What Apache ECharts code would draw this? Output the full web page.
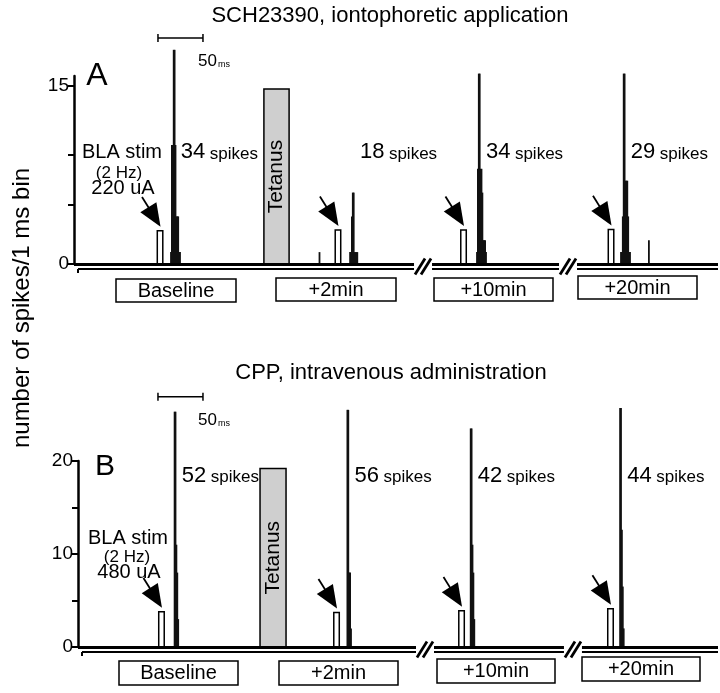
<!DOCTYPE html>
<html>
<head>
<meta charset="utf-8">
<title>PSTH</title>
<script src="https://cdn.jsdelivr.net/npm/echarts@6/dist/echarts.min.js"></script>
<style>
  html, body { margin: 0; padding: 0; background: #fff; }
  #chart { width: 720px; height: 693px; }
</style>
</head>
<body>
<div id="chart"></div>
<script>
const FONT = '"Liberation Sans", Arial, Helvetica, sans-serif';

// session names under each sweep
const sessions = ['Baseline', '+2min', '+10min', '+20min'];

// ---- panel A : SCH23390, iontophoretic ----
// x is time along the plotted line in ms, y is spikes / 1 ms bin
const stimA = [[95.6, 2.8], [293.3, 2.85], [432.8, 2.85], [596.7, 2.9]];
const respA = [
  [[107, 1], [108, 10], [109, 10], [110, 18], [111, 18], [112, 10], [113, 4], [114, 4], [115, 4], [116, 1], [117, 1]],
  [[272, 1], [306, 1], [307, 1], [308, 4], [309, 6], [310, 6], [311, 1], [312, 1], [313, 1], [314, 1]],
  [[447, 1], [448, 8], [449, 16], [450, 16], [451, 8], [452, 8], [453, 6], [454, 2], [455, 2], [456, 2], [457, 1]],
  [[607, 1], [608, 1], [609, 4], [610, 16], [611, 16], [612, 7], [613, 7], [614, 7], [615, 4], [616, 1], [617, 1], [638, 2]]
];
const spikesA = [34, 18, 34, 29];
const tetanusA = [211, 239, 14.7];
const breaksA = [387.8, 548.9];
const yTicksA = [0, 5, 9.2, 15];
const yLabelsA = [0, 15];

// ---- panel B : CPP, intravenous ----
const stimB = [[97.2, 3.8], [291.7, 3.7], [430.6, 3.9], [596.1, 4.1]];
const respB = [
  [[111, 25.3], [112, 25.3], [113, 11], [114, 8], [115, 3]],
  [[303, 25.5], [304, 25.5], [305, 8], [306, 8], [307, 2]],
  [[440, 23.5], [441, 23.5], [442, 11], [443, 8], [444, 3]],
  [[606, 25.7], [607, 25.7], [608, 12.6], [609, 6.5], [610, 2]]
];
const spikesB = [52, 56, 42, 44];
const tetanusB = [206.7, 235.6, 19.2];
const breaksB = [390, 554.4];
const yTicksB = [0, 5, 10, 15, 20];
const yLabelsB = [0, 10, 20];

const scaleBarStart = 93.3;
const scaleBarMs = 50;

// layout
const PX_PER_MS = 0.9;
const X_MAX = 644 / PX_PER_MS;

const chart = echarts.init(document.getElementById('chart'));

function renderBin(params, api) {
  const x = api.value(0), v = api.value(1);
  const a = api.coord([x, 0]);
  const b = api.coord([x + 1, v]);
  return {
    type: 'rect',
    shape: { x: a[0] - 0.2, y: b[1], width: b[0] - a[0] + 0.9, height: a[1] - b[1] },
    style: { fill: '#111' }
  };
}

function renderStim(params, api) {
  const a = api.coord([api.value(0), 0]);
  const b = api.coord([api.value(0), api.value(1)]);
  const w = 5.5;
  const tip = [a[0] + 0.5, b[1] - 4];
  const dx = 15, dy = 24, len = Math.hypot(dx, dy);
  const ux = dx / len, uy = dy / len;
  const headLen = 23, half = 9.5, total = 35;
  const base = [tip[0] - ux * headLen, tip[1] - uy * headLen];
  const p1 = [base[0] - uy * half, base[1] + ux * half];
  const p2 = [base[0] + uy * half, base[1] - ux * half];
  const tail = [tip[0] - ux * total, tip[1] - uy * total];
  return {
    type: 'group',
    children: [
      { type: 'rect', shape: { x: a[0] - w / 2, y: b[1], width: w, height: a[1] - b[1] },
        style: { fill: '#fff', stroke: '#000', lineWidth: 1.5 } },
      { type: 'line', shape: { x1: tail[0], y1: tail[1], x2: base[0] + ux * 4, y2: base[1] + uy * 4 },
        style: { stroke: '#000', lineWidth: 1.8 } },
      { type: 'polygon', shape: { points: [tip, p1, p2] }, style: { fill: '#000' } }
    ]
  };
}

function renderTetanus(params, api) {
  const a = api.coord([api.value(0), 0]);
  const b = api.coord([api.value(1), api.value(2)]);
  return {
    type: 'group',
    children: [
      { type: 'rect', shape: { x: a[0], y: b[1], width: b[0] - a[0], height: a[1] - b[1] },
        style: { fill: '#cfcfcf', stroke: '#000', lineWidth: 1.5 } },
      { type: 'text', x: (a[0] + b[0]) / 2, y: (a[1] + b[1]) / 2, rotation: Math.PI / 2,
        style: { text: 'Tetanus', fontSize: 21, fontFamily: FONT, fill: '#000', align: 'center', verticalAlign: 'middle' } }
    ]
  };
}

function renderBase(params, api) {
  const a = api.coord([api.value(0), 0]);
  const b = api.coord([api.value(2), 0]);
  const y = a[1] + 0.5;
  const lowY = y + 4.5;
  const first = params.dataIndex === 0;
  const x0low = first ? a[0] + 4 : a[0];
  const kids = [
    { type: 'line', shape: { x1: a[0], y1: y, x2: b[0], y2: y }, style: { stroke: '#000', lineWidth: 2.8 } },
    { type: 'line', shape: { x1: x0low, y1: lowY, x2: b[0], y2: lowY }, style: { stroke: '#000', lineWidth: 2 } }
  ];
  if (first) {
    kids.push({ type: 'line', shape: { x1: x0low, y1: lowY, x2: x0low, y2: lowY + 4 }, style: { stroke: '#000', lineWidth: 2 } });
  }
  return { type: 'group', children: kids };
}

function renderBreak(params, api) {
  const c = api.coord([api.value(0), 0]);
  const cx = c[0], cy = c[1] + 2.5;
  const st = { stroke: '#000', lineWidth: 2.8 };
  return {
    type: 'group',
    children: [
      { type: 'line', shape: { x1: cx - 8, y1: cy + 8, x2: cx + 2, y2: cy - 8 }, style: st },
      { type: 'line', shape: { x1: cx - 2, y1: cy + 8, x2: cx + 8, y2: cy - 8 }, style: st }
    ]
  };
}

function renderCount(params, api) {
  const p = api.coord([api.value(0), api.value(1)]);
  const x = p[0] + 6;
  return {
    type: 'group',
    children: [
      { type: 'text', x: x, y: p[1],
        style: { text: String(api.value(2)), fontSize: 22, fontFamily: FONT, fill: '#000', align: 'left', verticalAlign: 'middle' } },
      { type: 'text', x: x + 29, y: p[1] + 1.7,
        style: { text: 'spikes', fontSize: 17, fontFamily: FONT, fill: '#000', align: 'left', verticalAlign: 'middle' } }
    ]
  };
}

function renderScale(params, api) {
  const a = api.coord([api.value(0), api.value(1)]);
  const b = api.coord([api.value(0) + scaleBarMs, api.value(1)]);
  const st = { stroke: '#000', lineWidth: 1.5 };
  return {
    type: 'group',
    children: [
      { type: 'line', shape: { x1: a[0], y1: a[1], x2: b[0], y2: b[1] }, style: st },
      { type: 'line', shape: { x1: a[0], y1: a[1] - 4, x2: a[0], y2: a[1] + 4 }, style: st },
      { type: 'line', shape: { x1: b[0], y1: b[1] - 4, x2: b[0], y2: b[1] + 4 }, style: st },
      { type: 'text', x: b[0] - 5, y: b[1] + 23,
        style: { text: '50', fontSize: 17, fontFamily: FONT, fill: '#000', align: 'left', verticalAlign: 'middle' } },
      { type: 'text', x: b[0] + 15, y: b[1] + 27,
        style: { text: 'ms', fontSize: 9, fontFamily: FONT, fill: '#000', align: 'left', verticalAlign: 'middle' } }
    ]
  };
}

function peakOf(bins) {
  let best = bins[0];
  bins.forEach(function (b) { if (b[1] >= best[1]) best = b; });
  return best[0] + 1;
}

function segmentsFrom(breaks, xMin, xMax) {
  const gap = 9 / PX_PER_MS;
  const segs = [];
  let start = xMin;
  breaks.forEach(function (b) { segs.push([start, 0, b - gap]); start = b + gap; });
  segs.push([start, 0, xMax]);
  return segs;
}

function panelSeries(i, stim, resp, spikes, tetanus, breaks, labelY, scaleY, xMin) {
  const common = { type: 'custom', xAxisIndex: i, yAxisIndex: i, clip: false, silent: true };
  return [
    Object.assign({}, common, { name: 'tetanus' + i, data: [tetanus], encode: { x: [0, 1], y: 2 }, renderItem: renderTetanus }),
    Object.assign({}, common, { name: 'bins' + i, data: [].concat.apply([], resp), encode: { x: 0, y: 1 }, renderItem: renderBin }),
    Object.assign({}, common, { name: 'stim' + i, data: stim, encode: { x: 0, y: 1 }, renderItem: renderStim }),
    Object.assign({}, common, { name: 'base' + i, data: segmentsFrom(breaks, xMin, X_MAX), encode: { x: [0, 2], y: 1 }, renderItem: renderBase }),
    Object.assign({}, common, { name: 'breaks' + i, data: breaks.map(function (b) { return [b, 0]; }), encode: { x: 0, y: 1 }, renderItem: renderBreak }),
    Object.assign({}, common, { name: 'counts' + i,
      data: resp.map(function (bins, k) { return [peakOf(bins), labelY, spikes[k]]; }),
      encode: { x: 0, y: 1 }, renderItem: renderCount }),
    Object.assign({}, common, { name: 'scale' + i, data: [[scaleBarStart, scaleY]], encode: { x: 0, y: 1 }, renderItem: renderScale })
  ];
}

function yAxisOf(i, max, ticks, labels) {
  return {
    gridIndex: i, type: 'value', min: 0, max: max,
    axisLine: { show: true, lineStyle: { color: '#000', width: 2.5 } },
    axisTick: { show: true, length: 6, customValues: ticks, lineStyle: { color: '#000', width: 2 } },
    axisLabel: { customValues: labels, fontSize: 19, fontFamily: FONT, color: '#000', margin: 5 },
    splitLine: { show: false }
  };
}

function txt(x, y, text, size, extra) {
  return Object.assign({
    type: 'text', x: x, y: y,
    style: { text: text, fontSize: size, fontFamily: FONT, fill: '#000',
      align: 'center', verticalAlign: 'middle', textAlign: 'center', textVerticalAlign: 'middle' }
  }, extra || {});
}

function sessionBoxes(boxes) {
  const out = [];
  boxes.forEach(function (b, k) {
    out.push({ type: 'rect', shape: { x: b[0], y: b[1], width: b[2], height: b[3] },
      style: { fill: '#fff', stroke: '#000', lineWidth: 1.5 } });
    out.push(txt(b[0] + b[2] / 2, b[1] + b[3] / 2 + 0.5, sessions[k], 20));
  });
  return out;
}

const boxesA = [[116, 279, 120, 23], [276, 278, 120, 23], [434, 278, 119, 23], [578, 276, 119, 23]];
const boxesB = [[119, 661, 119, 24], [279, 661, 119, 24], [437, 659, 118, 24], [582, 657, 118, 24]];

const graphics = [
  txt(390, 16, 'SCH23390, iontophoretic application', 22),
  txt(391, 373, 'CPP, intravenous administration', 22),
  txt(97, 76, 'A', 32),
  txt(105, 467, 'B', 30),
  txt(122, 152, 'BLA stim', 20),
  txt(119, 173, '(2 Hz)', 17),
  txt(123, 188, '220 uA', 20),
  txt(128, 538, 'BLA stim', 20),
  txt(127, 557, '(2 Hz)', 17),
  txt(129, 572, '480 uA', 20),
  txt(22, 308, 'number of spikes/1 ms bin', 24, { rotation: Math.PI / 2 })
].concat(sessionBoxes(boxesA), sessionBoxes(boxesB));

const xMinB = 4 / PX_PER_MS;

chart.setOption({
  animation: false,
  backgroundColor: '#fff',
  grid: [
    { left: 74, top: 76, width: 644, height: 188, outerBoundsMode: 'none' },
    { left: 78, top: 461, width: 640, height: 186, outerBoundsMode: 'none' }
  ],
  xAxis: [
    { gridIndex: 0, type: 'value', min: 0, max: X_MAX, show: false },
    { gridIndex: 1, type: 'value', min: xMinB, max: X_MAX, show: false }
  ],
  yAxis: [
    yAxisOf(0, 15.8, yTicksA, yLabelsA),
    yAxisOf(1, 20, yTicksB, yLabelsB)
  ],
  graphic: graphics,
  series: [].concat(
    panelSeries(0, stimA, respA, spikesA, tetanusA, breaksA, 9.4, 19.0, 0),
    panelSeries(1, stimB, respB, spikesB, tetanusB, breaksB, 18.4, 26.9, xMinB)
  )
});
</script>
</body>
</html>
